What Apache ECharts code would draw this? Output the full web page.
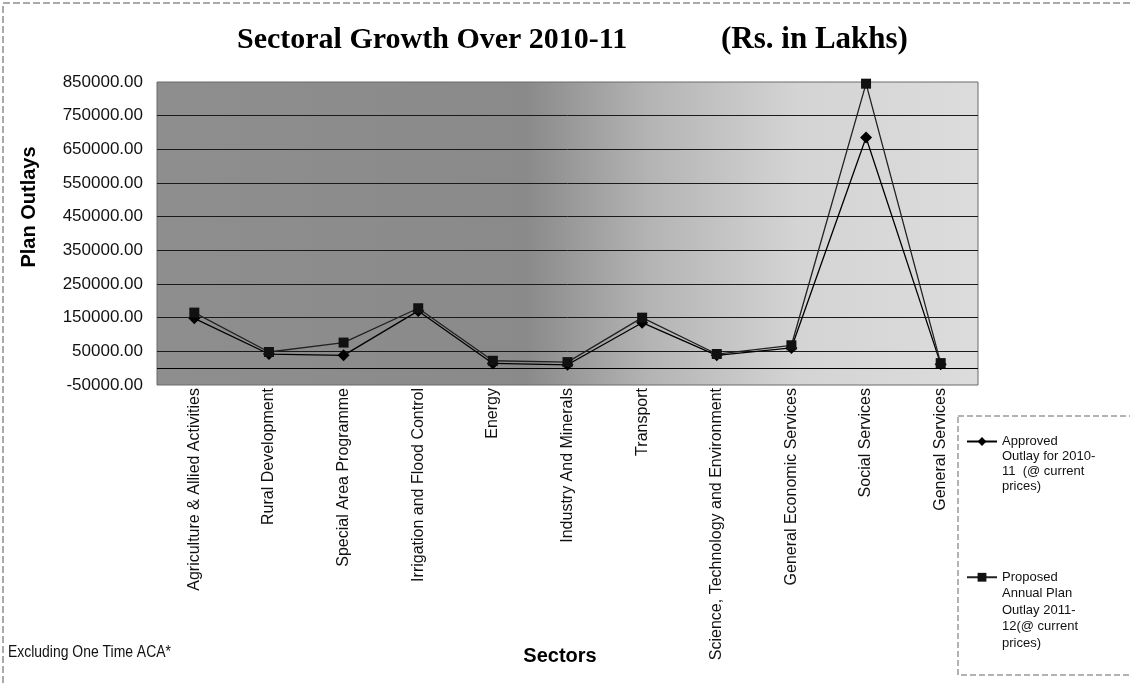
<!DOCTYPE html>
<html>
<head>
<meta charset="utf-8">
<title>Sectoral Growth Over 2010-11</title>
<script src="https://cdn.jsdelivr.net/npm/echarts@6/dist/echarts.min.js"></script>
<style>
  html, body { margin: 0; padding: 0; background: #ffffff; }
  #chart { width: 1130px; height: 683px; }
</style>
</head>
<body>
<div id="chart"></div>
<script>
// Sectors on the category axis
const sectors = [
  'Agriculture & Allied Activities',
  'Rural Development',
  'Special Area Programme',
  'Irrigation and Flood Control',
  'Energy',
  'Industry And Minerals',
  'Transport',
  'Science, Technology and Environment',
  'General Economic Services',
  'Social Services',
  'General Services'
];

// Plan outlays, Rs. in Lakhs
const approvedOutlay2010 = [148000, 42000, 38000, 170000, 14000, 10000, 135000, 38000, 60000, 685000, 12000];
const proposedOutlay2011 = [165000, 48000, 76000, 178000, 22000, 18000, 150000, 42000, 68000, 845000, 15000];

// Value axis range and step
const yMin = -50000;
const yMax = 850000;
const yStep = 100000;

const seriesNames = [
  'Approved Outlay for 2010-11 (@ current prices)',
  'Proposed Annual Plan Outlay 2011-12(@ current prices)'
];
const legendLines = [
  ['Approved', 'Outlay for 2010-', '11  (@ current', 'prices)'],
  ['Proposed', 'Annual Plan', 'Outlay 2011-', '12(@ current', 'prices)']
];

// Leading blank lines keep the legend symbol level with the first text line
function legendText(lines) {
  return new Array(lines.length - 1).fill('').concat(lines).join('\n');
}

const chart = echarts.init(document.getElementById('chart'));

const plot = { left: 157, top: 82, right: 978, bottom: 385 };

chart.setOption({
  backgroundColor: '#ffffff',
  animation: false,
  title: [
    {
      text: 'Sectoral Growth Over 2010-11',
      left: 232, top: 20,
      textStyle: { fontFamily: 'Liberation Serif, Times New Roman, serif', fontWeight: 'bold', fontSize: 30, color: '#000' }
    },
    {
      text: '(Rs. in Lakhs)',
      left: 716, top: 19,
      textStyle: { fontFamily: 'Liberation Serif, Times New Roman, serif', fontWeight: 'bold', fontSize: 31, color: '#000' }
    }
  ],
  grid: {
    left: plot.left,
    top: plot.top,
    right: 1130 - plot.right,
    bottom: 683 - plot.bottom,
    show: true,
    borderColor: '#6a6a6a',
    borderWidth: 1,
    backgroundColor: {
      type: 'linear', x: 0, y: 0, x2: 1, y2: 0,
      colorStops: [
        { offset: 0, color: '#8e8e8e' },
        { offset: 0.45, color: '#8a8a8a' },
        { offset: 0.6, color: '#b4b4b4' },
        { offset: 0.78, color: '#d4d4d4' },
        { offset: 1, color: '#dcdcdc' }
      ]
    }
  },
  legend: {
    orient: 'vertical',
    left: 966,
    top: 389,
    itemWidth: 30,
    itemHeight: 11,
    itemGap: 9,
    padding: 0,
    selectedMode: false,
    data: [
      { name: seriesNames[0], textStyle: { lineHeight: 15 } },
      { name: seriesNames[1], textStyle: { lineHeight: 16.5 } }
    ],
    formatter: function (name) {
      return legendText(legendLines[seriesNames.indexOf(name)]);
    },
    textStyle: { fontFamily: 'Liberation Sans, Arial, sans-serif', fontSize: 13, color: '#111' }
  },
  xAxis: {
    type: 'category',
    data: sectors,
    boundaryGap: true,
    axisLine: { onZero: false, show: false },
    axisTick: { show: false },
    axisLabel: {
      interval: 0,
      rotate: 90,
      margin: 3,
      fontFamily: 'Liberation Sans, Arial, sans-serif',
      fontSize: 16,
      color: '#111'
    },
    splitLine: { show: false }
  },
  yAxis: {
    type: 'value',
    min: yMin,
    max: yMax,
    interval: yStep,
    axisLine: { show: false },
    axisTick: { show: false },
    axisLabel: {
      margin: 14,
      fontFamily: 'Liberation Sans, Arial, sans-serif',
      fontSize: 17,
      color: '#111',
      formatter: function (v) { return v.toFixed(2); }
    },
    splitLine: {
      show: true,
      showMinLine: false,
      showMaxLine: false,
      lineStyle: { color: '#1a1a1a', width: 1 }
    }
  },
  series: [
    {
      name: seriesNames[0],
      type: 'line',
      data: approvedOutlay2010,
      symbol: 'diamond',
      symbolSize: 12,
      itemStyle: { color: '#000' },
      lineStyle: { color: '#000', width: 1.3 },
      markLine: {
        silent: true,
        symbol: 'none',
        label: { show: false },
        lineStyle: { color: '#000', width: 1, type: 'solid' },
        data: [{ yAxis: 0 }]
      },
      z: 3
    },
    {
      name: seriesNames[1],
      type: 'line',
      data: proposedOutlay2011,
      symbol: 'rect',
      symbolSize: 10,
      itemStyle: { color: '#111' },
      lineStyle: { color: '#222', width: 1.3 },
      z: 4
    }
  ],
  graphic: [
    {
      type: 'rect',
      shape: { x: 3, y: 3, width: 1140, height: 700 },
      style: { fill: 'none', stroke: '#555', lineWidth: 1, lineDash: [7, 3] },
      silent: true
    },
    {
      type: 'rect',
      shape: { x: 958, y: 416, width: 190, height: 259 },
      style: { fill: 'none', stroke: '#666', lineWidth: 1, lineDash: [6, 3] },
      silent: true
    },
    {
      type: 'text',
      x: 29, y: 207,
      rotation: Math.PI / 2,
      style: {
        text: 'Plan Outlays',
        fontFamily: 'Liberation Sans, Arial, sans-serif',
        fontWeight: 'bold',
        fontSize: 20,
        fill: '#000',
        align: 'center',
        verticalAlign: 'middle'
      }
    },
    {
      type: 'text',
      x: 560, y: 656,
      style: {
        text: 'Sectors',
        fontFamily: 'Liberation Sans, Arial, sans-serif',
        fontWeight: 'bold',
        fontSize: 20,
        fill: '#000',
        align: 'center',
        verticalAlign: 'middle'
      }
    },
    {
      // Condensed footnote
      type: 'text',
      x: 8, y: 652,
      scaleX: 0.82,
      style: {
        text: 'Excluding One Time ACA*',
        fontFamily: 'Liberation Sans, Arial, sans-serif',
        fontSize: 17,
        fill: '#111',
        align: 'left',
        verticalAlign: 'middle'
      }
    }
  ]
});
</script>
</body>
</html>
